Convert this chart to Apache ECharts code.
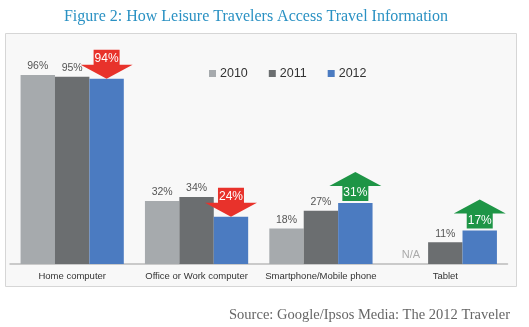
<!DOCTYPE html>
<html><head><meta charset="utf-8">
<script src="https://cdn.jsdelivr.net/npm/echarts@6/dist/echarts.min.js"></script>
<style>html,body{margin:0;padding:0;background:#fff;}#c{width:529px;height:327px;}</style>
</head><body><div id="c"></div>
<script>
var categories = ['Home computer', 'Office or Work computer', 'Smartphone/Mobile phone', 'Tablet'];
var years = ['2010', '2011', '2012'];
var v2010 = [96, 32, 18, null];
var v2011 = [95, 34, 27, 11];
var v2012 = [94, 24, 31, 17];
// arrows on the 2012 bars: 'down' = decrease, 'up' = increase
var arrowDir = ['down', 'down', 'up', 'up'];
var colors = ['#a6aaad', '#6b6e70', '#4b7bc1'];

var chart = echarts.init(document.getElementById('c'));
var labelStyle = {show: true, position: 'top', distance: 3, color: '#555', fontSize: 10.5, fontFamily: 'Arial, Liberation Sans', formatter: '{c}%'};

var d2010 = v2010.map(function (v) {
  if (v === null) return {value: 0, label: {show: true, formatter: 'N/A', color: '#aaa', fontSize: 11, distance: 4}};
  return v;
});

var catGap = 0.17;
function arrowItem(params, api) {
  var ci = api.value(0), val = api.value(1), dir = arrowDir[params.dataIndex];
  var p = api.coord([ci, val]);
  var cw = api.size([1, 0])[0];
  var cx = p[0] + cw * (1 - catGap) / 3;
  var y0 = p[1];
  var rw = 13, hw = 26, hh = 14, rh = 15, pts, ty;
  var col;
  if (dir === 'down') {
    col = '#e8322b';
    pts = [[cx - rw, y0 - hh - rh], [cx + rw, y0 - hh - rh], [cx + rw, y0 - hh], [cx + hw, y0 - hh], [cx, y0], [cx - hw, y0 - hh], [cx - rw, y0 - hh]];
    ty = y0 - hh - 6;
  } else {
    col = '#1e9546';
    var b = y0 - 2;
    pts = [[cx - rw, b], [cx + rw, b], [cx + rw, b - rh], [cx + hw, b - rh], [cx, b - rh - hh], [cx - hw, b - rh], [cx - rw, b - rh]];
    ty = b - 8;
  }
  return {type: 'group', children: [
    {type: 'polygon', shape: {points: pts}, style: {fill: col}},
    {type: 'text', x: cx, y: ty, style: {text: val + '%', fill: '#fff', fontSize: 12, fontFamily: 'Arial, Liberation Sans', align: 'center', verticalAlign: 'middle'}}
  ]};
}

chart.setOption({
  animation: false,
  backgroundColor: '#fff',
  title: [{
    text: 'Figure 2: How Leisure Travelers Access Travel Information',
    left: 251, top: 4, textAlign: 'center',
    textStyle: {color: '#2a91c3', fontSize: 16, fontWeight: 'normal', fontFamily: 'Liberation Serif, DejaVu Serif, serif'}
  }, {
    text: 'Source: Google/Ipsos Media: The 2012 Traveler',
    right: 14, top: 303,
    textStyle: {color: '#666', fontSize: 14.5, fontWeight: 'normal', fontFamily: 'Liberation Serif, DejaVu Serif, serif'}
  }],
  graphic: [{
    type: 'rect', left: 5, top: 33, z: -10,
    shape: {width: 511, height: 253},
    style: {fill: '#f8f8f8', stroke: '#d6d6d6', lineWidth: 1}
  }],
  legend: {
    data: years, left: 204, top: 62, itemWidth: 7, itemHeight: 7, itemGap: 21,
    icon: 'rect',
    textStyle: {fontSize: 12.5, color: '#333', fontFamily: 'Arial, Liberation Sans', padding: [0, 0, 0, -1]}
  },
  grid: {left: 10, right: 21.5, top: 67, bottom: 63, containLabel: false},
  xAxis: {
    type: 'category', data: categories,
    axisLine: {lineStyle: {color: '#bbb', width: 1.5}},
    axisTick: {show: false},
    axisLabel: {interval: 0, color: '#333', fontSize: 9.5, fontFamily: 'Arial, Liberation Sans', margin: 7}
  },
  yAxis: {type: 'value', min: 0, max: 100, show: false, splitLine: {show: false}},
  series: [
    {name: '2010', type: 'bar', data: d2010, itemStyle: {color: colors[0]}, barGap: '0%', barCategoryGap: '17%', label: labelStyle},
    {name: '2011', type: 'bar', data: v2011, itemStyle: {color: colors[1]}, barGap: '0%', barCategoryGap: '17%', label: labelStyle},
    {name: '2012', type: 'bar', data: v2012, itemStyle: {color: colors[2]}, barGap: '0%', barCategoryGap: '17%'},
    {type: 'custom', renderItem: arrowItem, data: v2012.map(function (v, i) { return [i, v]; }), z: 5, silent: true}
  ]
});
</script></body></html>
